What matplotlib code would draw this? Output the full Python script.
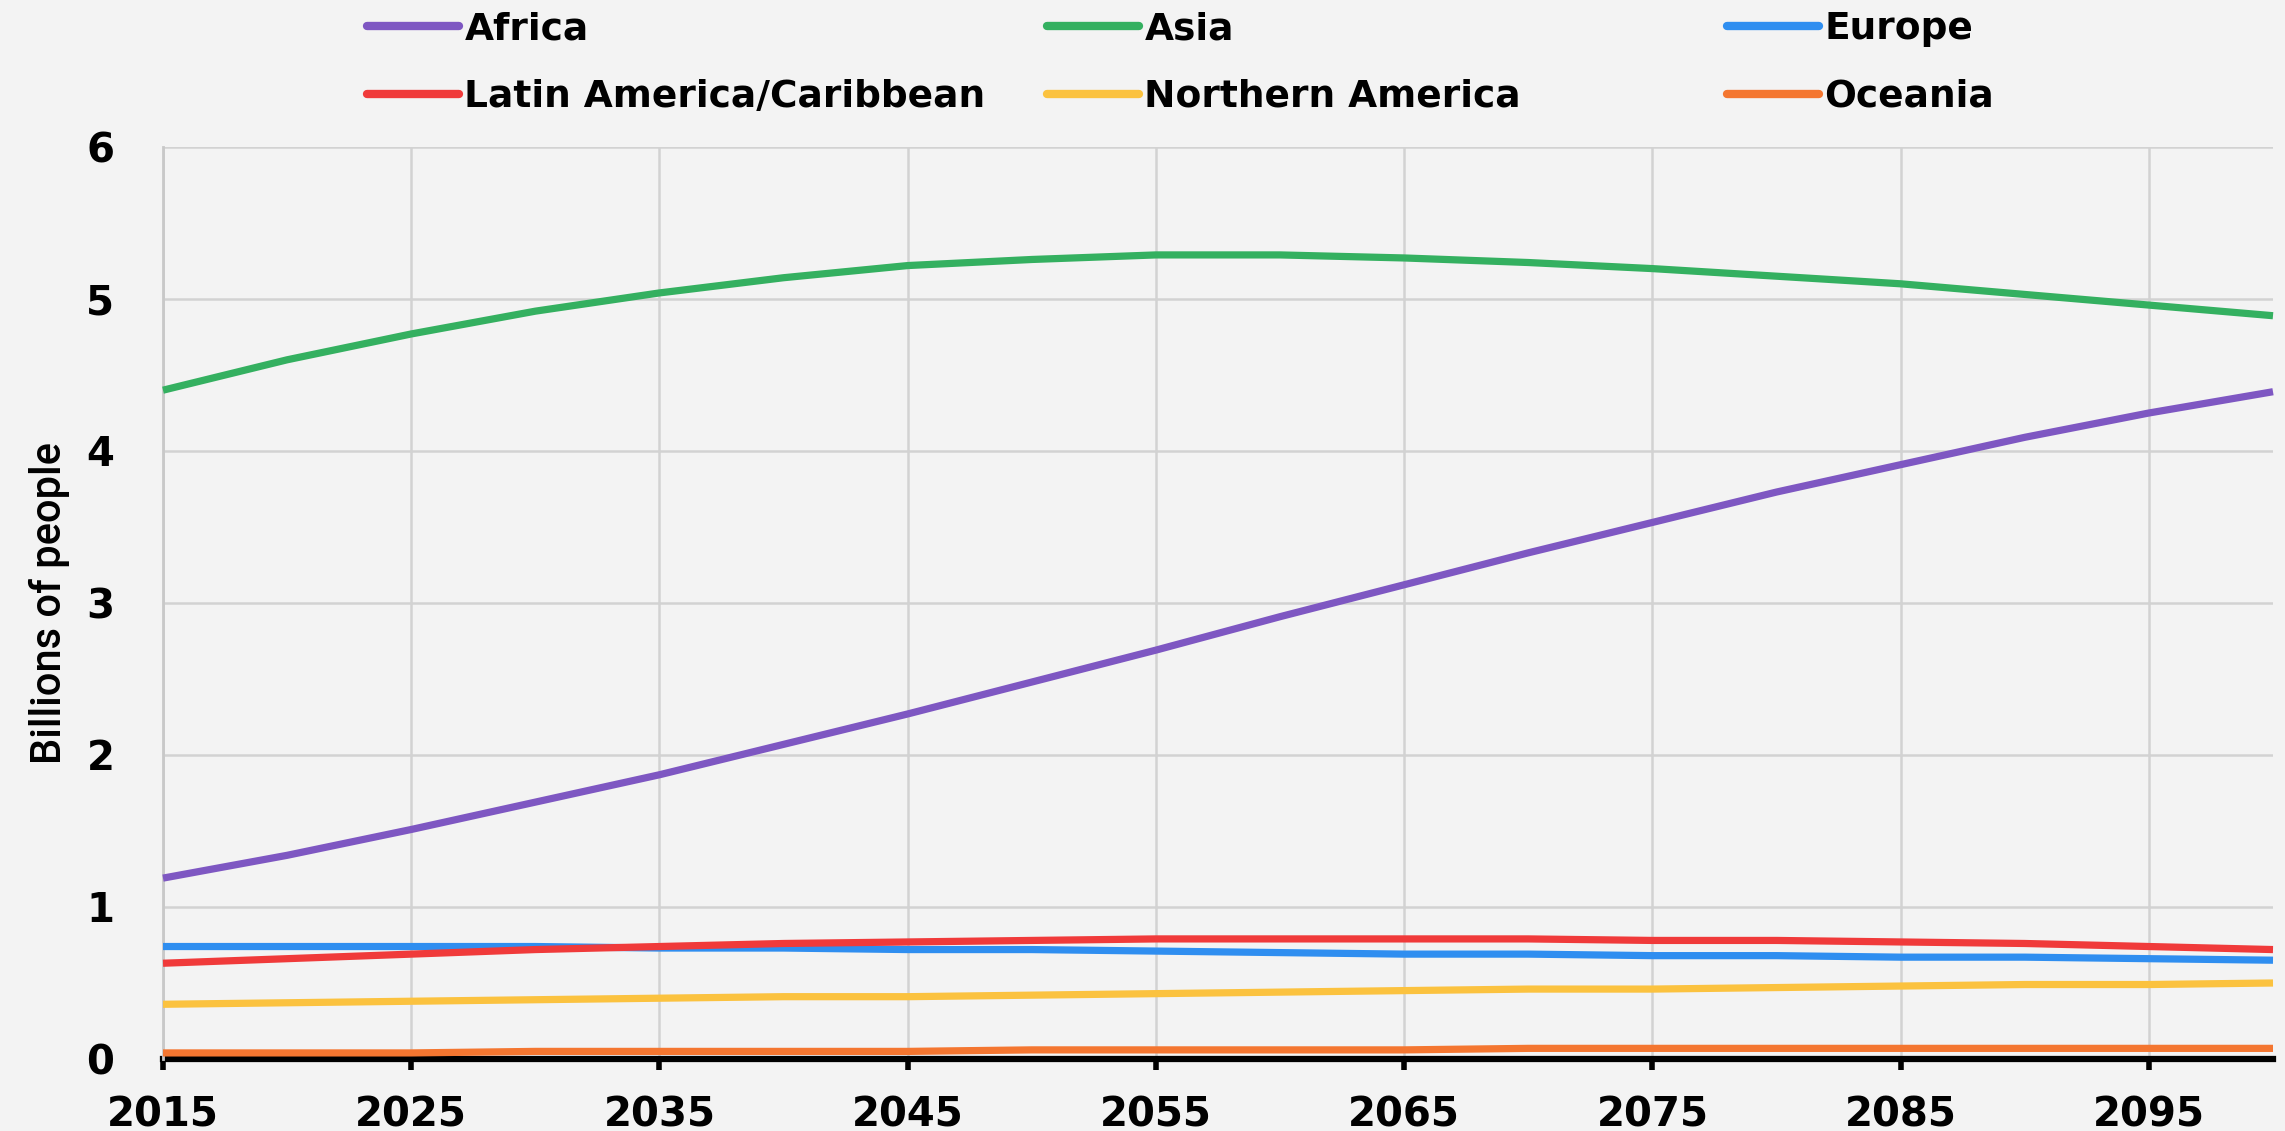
import matplotlib
matplotlib.use("Agg")
import matplotlib.pyplot as plt

years = [2015, 2020, 2025, 2030, 2035, 2040, 2045, 2050, 2055, 2060,
         2065, 2070, 2075, 2080, 2085, 2090, 2095, 2100]

africa = [1.19, 1.34, 1.51, 1.69, 1.87, 2.07, 2.27, 2.48, 2.69, 2.91,
          3.12, 3.33, 3.53, 3.73, 3.91, 4.09, 4.25, 4.39]
asia = [4.40, 4.60, 4.77, 4.92, 5.04, 5.14, 5.22, 5.26, 5.29, 5.29,
        5.27, 5.24, 5.20, 5.15, 5.10, 5.03, 4.96, 4.89]
europe = [0.74, 0.74, 0.74, 0.74, 0.73, 0.73, 0.72, 0.72, 0.71, 0.70,
          0.69, 0.69, 0.68, 0.68, 0.67, 0.67, 0.66, 0.65]
latin_america = [0.63, 0.66, 0.69, 0.72, 0.74, 0.76, 0.77, 0.78, 0.79, 0.79,
                 0.79, 0.79, 0.78, 0.78, 0.77, 0.76, 0.74, 0.72]
northern_america = [0.36, 0.37, 0.38, 0.39, 0.40, 0.41, 0.41, 0.42, 0.43, 0.44,
                    0.45, 0.46, 0.46, 0.47, 0.48, 0.49, 0.49, 0.50]
oceania = [0.04, 0.04, 0.04, 0.05, 0.05, 0.05, 0.05, 0.06, 0.06, 0.06,
           0.06, 0.07, 0.07, 0.07, 0.07, 0.07, 0.07, 0.07]

series_names = ["Africa", "Asia", "Europe", "Latin America/Caribbean",
                "Northern America", "Oceania"]
series_values = [africa, asia, europe, latin_america, northern_america, oceania]
colors = ["#7e57c2", "#34b060", "#2f8ef0", "#f03a3a", "#fbc23f", "#f47630"]

x_ticks = [2015, 2025, 2035, 2045, 2055, 2065, 2075, 2085, 2095]
y_ticks = [0, 1, 2, 3, 4, 5, 6]

bg = "#f3f3f3"
grid_c = "#d2d2d2"
W, H = 2285, 1131

fig = plt.figure(figsize=(W / 100, H / 100), dpi=100, facecolor=bg)
ax = fig.add_axes([163 / W, 1 - 1059 / H, (2273 - 163) / W, (1059 - 147) / H])
ax.set_facecolor(bg)

handles = []
for name, vals, c in zip(series_names, series_values, colors):
    h, = ax.plot(years, vals, color=c, lw=5.2, solid_capstyle="butt",
                 solid_joinstyle="round", label=name, zorder=3, clip_on=False)
    handles.append(h)

ax.set_xlim(2015, 2100)
ax.set_ylim(0, 6)
ax.set_xticks(x_ticks)
ax.set_yticks(y_ticks)
ax.set_xticklabels([str(t) for t in x_ticks])
ax.set_yticklabels([str(t) for t in y_ticks])

ax.grid(True, color=grid_c, lw=1.8, zorder=0)
for s in ["top", "right"]:
    ax.spines[s].set_visible(False)
ax.spines["left"].set_color("#c8c8c8")
ax.spines["left"].set_linewidth(2.0)
ax.spines["bottom"].set_color("black")
ax.spines["bottom"].set_linewidth(4.5)
ax.spines["bottom"].set_zorder(2)

ax.tick_params(axis="x", direction="out", length=8, width=4, color="black",
               pad=18, labelsize=29, labelcolor="black")
ax.tick_params(axis="y", length=0, pad=35, labelsize=29, labelcolor="black")
for lab in ax.get_xticklabels() + ax.get_yticklabels():
    lab.set_fontfamily("DejaVu Sans")
    lab.set_fontweight("bold")

ax.set_ylabel("Billions of people", fontsize=30, fontweight="medium",
              family=["Roboto", "DejaVu Sans"])
ax.yaxis.set_label_coords(70 / W, 1 - 603 / H, transform=fig.transFigure)

# legend: three columns of two entries
col_x = [367, 1047, 1727]
for ci in range(3):
    hs = [handles[ci], handles[ci + 3]]
    leg = fig.legend(hs, [h.get_label() for h in hs], loc="upper left",
                     bbox_to_anchor=(col_x[ci] / W, 1 - 11 / H),
                     bbox_transform=fig.transFigure, frameon=False,
                     prop={"family": "DejaVu Sans", "size": 27, "weight": "bold"},
                     handlelength=2.45, handletextpad=0.15, labelspacing=0.85,
                     borderaxespad=0, borderpad=0)
    for lh in leg.get_lines():
        lh.set_linewidth(6)
        lh.set_solid_capstyle("round")

fig.savefig("out.png", dpi=100, facecolor=bg)
